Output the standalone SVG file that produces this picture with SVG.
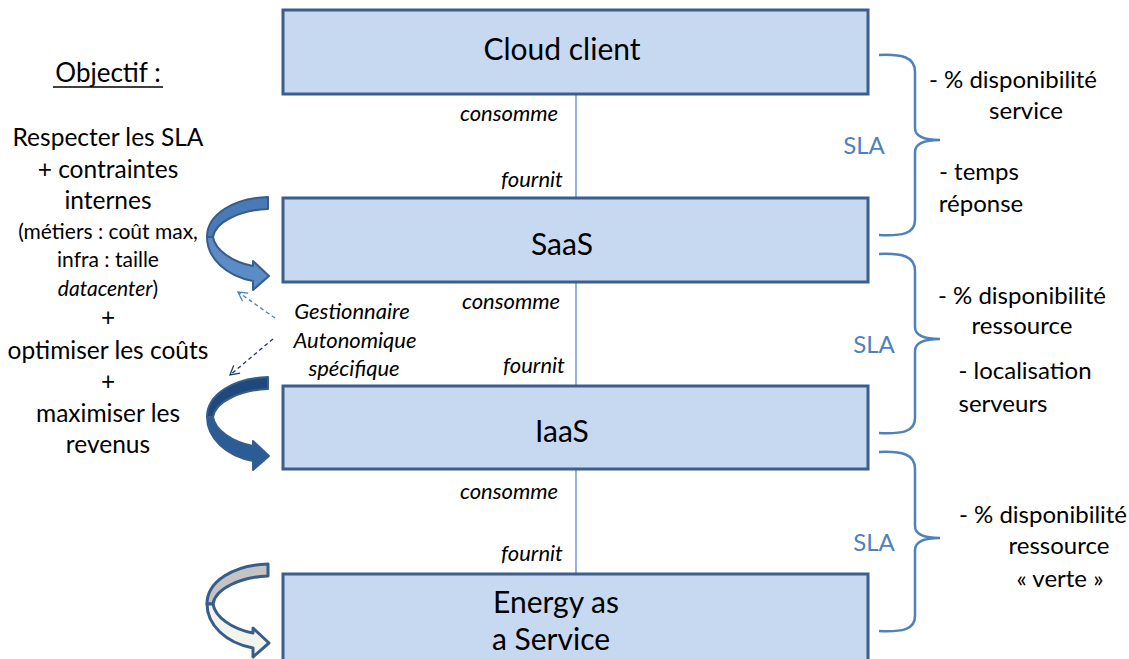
<svg xmlns="http://www.w3.org/2000/svg" width="1129" height="659" viewBox="0 0 1129 659">
<style>
text{font-family:Lato,"Liberation Sans",sans-serif;fill:#000;text-anchor:middle}
.box{fill:#C6D9F1;stroke:#3B5E8C;stroke-width:3}
.lbl{font-size:30px}
.it{font-style:italic;font-size:22px}
.left{font-size:24.5px}
.small{font-size:21px}
.sla{font-size:24px;fill:#4F81BD}
.rt{font-size:24px}
.brace{fill:none;stroke:#4F81BD;stroke-width:2.5}
.conn{stroke:#4F81BD;stroke-width:1.2}
.arr{stroke:#385D8A;stroke-width:2;stroke-linejoin:round}
</style>
<defs>
<marker id="openL" markerWidth="12" markerHeight="12" refX="10" refY="6" orient="auto" markerUnits="userSpaceOnUse">
<path d="M1,1 L10,6 L1,11" fill="none" stroke="#4F81BD" stroke-width="1.3"/>
</marker>
<marker id="openD" markerWidth="12" markerHeight="12" refX="10" refY="6" orient="auto" markerUnits="userSpaceOnUse">
<path d="M1,1 L10,6 L1,11" fill="none" stroke="#1F3864" stroke-width="1.3"/>
</marker>
<path id="upper" d="M268,197 C234,198 207,214 207,237 L213,237 C215,222 240,210 268,209 Z"/>
<path id="lower" d="M207,237 C207,258 226,276 253,281 L253,290 L269,276 L253,261 L253,266 C232,262 215,250 213,237 Z"/>
</defs>

<g id="connectors">
<line class="conn" x1="576" y1="94" x2="576" y2="197"/>
<line class="conn" x1="576" y1="282" x2="576" y2="386"/>
<line class="conn" x1="576" y1="469" x2="576" y2="574"/>
<line x1="275" y1="318" x2="238" y2="292" stroke="#4F81BD" stroke-width="1.3" stroke-dasharray="4,3" marker-end="url(#openL)"/>
<line x1="273" y1="339" x2="230" y2="375" stroke="#1F3864" stroke-width="1.3" stroke-dasharray="4,3" marker-end="url(#openD)"/>
</g>

<g id="cloud-client">
<rect class="box" x="283" y="10" width="585" height="84"/>
<text class="lbl" x="562" y="60">Cloud client</text>
</g>
<g id="saas">
<rect class="box" x="283" y="198" width="585" height="84"/>
<text class="lbl" x="562" y="255">SaaS</text>
</g>
<g id="iaas">
<rect class="box" x="283" y="386" width="585" height="83"/>
<text class="lbl" x="562" y="442">IaaS</text>
</g>
<g id="energy">
<rect class="box" x="283" y="574" width="585" height="90"/>
<text class="lbl" x="556" y="613">Energy as</text>
<text class="lbl" x="551" y="650">a Service</text>
</g>

<g id="edge-labels">
<text class="it" x="509" y="121">consomme</text>
<text class="it" x="532" y="187">fournit</text>
<text class="it" x="511" y="309">consomme</text>
<text class="it" x="534" y="373">fournit</text>
<text class="it" x="509" y="499">consomme</text>
<text class="it" x="532" y="561">fournit</text>
</g>

<g id="gestionnaire">
<text class="it" x="352" y="319">Gestionnaire</text>
<text class="it" x="355" y="348">Autonomique</text>
<text class="it" x="354" y="376">spécifique</text>
</g>

<g id="curved-arrows">
<g id="arrow1">
<use href="#upper" class="arr" fill="#4A7AB5"/>
<use href="#lower" class="arr" fill="#5B8CC8"/>
</g>
<g id="arrow2" transform="translate(0,180)">
<use href="#upper" class="arr" fill="#1F497D"/>
<use href="#lower" class="arr" fill="#2A5C96"/>
</g>
<g id="arrow3" transform="translate(0,367)">
<use href="#upper" class="arr" fill="#C4C4C4" style="stroke-width:3"/>
<use href="#lower" class="arr" fill="#F3F3EE" style="stroke-width:3"/>
</g>
</g>

<g id="objectif">
<text class="left" style="font-size:26px" x="108" y="82">Objectif :</text>
<line x1="53" y1="87" x2="163" y2="87" stroke="#000" stroke-width="1.3"/>
<text class="left" x="108" y="146">Respecter les SLA</text>
<text class="left" x="108" y="178">+ contraintes</text>
<text class="left" x="108" y="209">internes</text>
<text class="small" x="108" y="239">(métiers : coût max,</text>
<text class="small" x="108" y="267">infra : taille</text>
<text class="small" x="108" y="296"><tspan font-style="italic">datacenter</tspan>)</text>
<text class="left" x="108" y="326">+</text>
<text class="left" x="108" y="359">optimiser les coûts</text>
<text class="left" x="108" y="390">+</text>
<text class="left" x="108" y="422">maximiser les</text>
<text class="left" x="108" y="453">revenus</text>
</g>

<g id="sla1">
<path class="brace" d="M879,55 C902,54 915,57 915,72 L915,128 C915,137 924,140 940,140 C924,140 915,143 915,152 L915,220 C915,234 902,236 879,235"/>
<text class="sla" x="864" y="154">SLA</text>
<text class="rt" x="1013" y="88">- % disponibilité</text>
<text class="rt" x="1026" y="119">service</text>
<text class="rt" x="979" y="180">- temps</text>
<text class="rt" x="981" y="212">réponse</text>
</g>
<g id="sla2">
<path class="brace" d="M879,254 C902,253 915,256 915,271 L915,327 C915,336 924,339 940,339 C924,339 915,342 915,351 L915,418 C915,432 902,434 879,433"/>
<text class="sla" x="874" y="353">SLA</text>
<text class="rt" x="1022" y="304">- % disponibilité</text>
<text class="rt" x="1022" y="334">ressource</text>
<text class="rt" x="1025" y="379">- localisation</text>
<text class="rt" x="1003" y="412">serveurs</text>
</g>
<g id="sla3">
<path class="brace" d="M879,452 C902,451 915,454 915,469 L915,526 C915,535 924,538 940,538 C924,538 915,541 915,550 L915,616 C915,630 902,632 879,631"/>
<text class="sla" x="874" y="551">SLA</text>
<text class="rt" x="1043" y="523">- % disponibilité</text>
<text class="rt" x="1059" y="554">ressource</text>
<text class="rt" x="1060" y="587">« verte »</text>
</g>
</svg>
